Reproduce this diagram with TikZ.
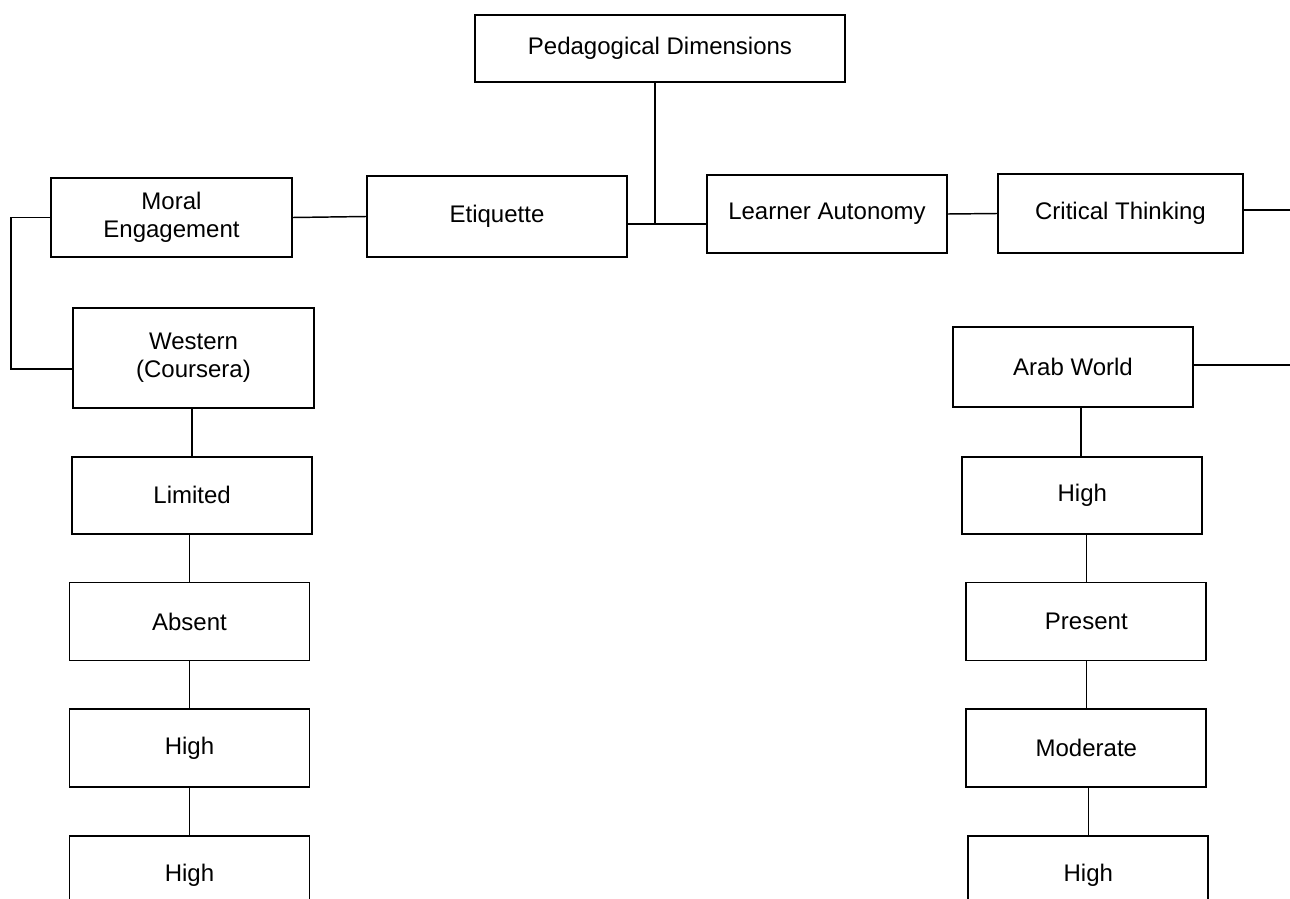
\documentclass[tikz,border=0pt]{standalone}
\usepackage{fontspec}
\setmainfont{Liberation Sans}
\usetikzlibrary{positioning}

\begin{document}
\begin{tikzpicture}[
        x=0.75pt, y=-0.75pt,
        dimbox/.style={
          rectangle,
          draw,
          line width=1.3pt,
          align=center,
          inner sep=0pt,
          minimum width=180pt,
          minimum height=58.5pt,
          font=\fontsize{18}{20.7}\selectfont
        },
        conn/.style={line width=1.1pt},
        node distance=35.25pt
    ]
    \useasboundingbox (0,0) rectangle (1290,899);
    \clip (0,0) rectangle (1290,899);

    % Define the nodes
    \node[dimbox, minimum width=277.5pt, minimum height=50.25pt] (ped) at (660,48.5) {Pedagogical Dimensions};
    \node[dimbox, minimum width=180.75pt, minimum height=59.25pt] (moral) at (171.5,217.5) {Moral\\Engagement};
    \node[dimbox, minimum width=195pt, minimum height=60.75pt] (etiq) at (497,216.5) {Etiquette};
    \node[dimbox] (auto) at (827,214) {Learner Autonomy};
    \node[dimbox, minimum width=183.75pt, minimum height=59.25pt] (crit) at (1120.5,213.5) {Critical Thinking};

    % Western column
    \node[dimbox, minimum width=180.75pt, minimum height=75pt] (west) at (193.5,358) {Western\\(Coursera)};
    \node[dimbox, minimum height=57.75pt, below=of west, xshift=-1pt] (limit) {Limited};
    \node[dimbox, below=of limit, xshift=-2pt] (absent) {Absent};
    \node[dimbox, below=of absent] (highW) {High};
    \node[dimbox, below=of highW] (highWb) {High};

    % Arab column
    \node[dimbox, minimum height=60pt] (arab) at (1073,367) {Arab World};
    \node[dimbox, minimum height=57.75pt, below=36pt of arab, xshift=7pt] (highA) {High};
    \node[dimbox, below=of highA, xshift=3pt] (present) {Present};
    \node[dimbox, below=of present] (moder) {Moderate};
    \node[dimbox, below=of moder, xshift=1.5pt] (highAb) {High};

    % Free ends on the right edge
    \coordinate (hub) at (655,224);
    \coordinate (edgeA) at (1296,210);
    \coordinate (edgeB) at (1296,365);

    % Connect the nodes
    \draw[conn] (ped.south -| hub) -- (hub);
    \draw[conn] (etiq.east |- hub) -- (auto.west |- hub);
    \draw[conn] (moral.east) -- (etiq.west);
    \draw[conn] (auto.east) -- (crit.west);
    \draw[conn] (crit.east |- edgeA) -- (edgeA);
    \draw[conn] (arab.east |- edgeB) -- (edgeB);
    \draw[conn] (moral.west) -- ++(-39,0) |- ([yshift=-8.25pt]west.west);

    \draw[conn] (limit.north) -- (limit.north |- west.south);
    \draw[conn] (absent.north) -- (absent.north |- limit.south);
    \draw[conn] (highW.north) -- (highW.north |- absent.south);
    \draw[conn] (highWb.north) -- (highWb.north |- highW.south);

    \draw[conn] ([xshift=-1pt]highA.north) -- ([xshift=-1pt]highA.north |- arab.south);
    \draw[conn] (present.north) -- (present.north |- highA.south);
    \draw[conn] (moder.north) -- (moder.north |- present.south);
    \draw[conn] (highAb.north) -- (highAb.north |- moder.south);

\end{tikzpicture}
\end{document}
